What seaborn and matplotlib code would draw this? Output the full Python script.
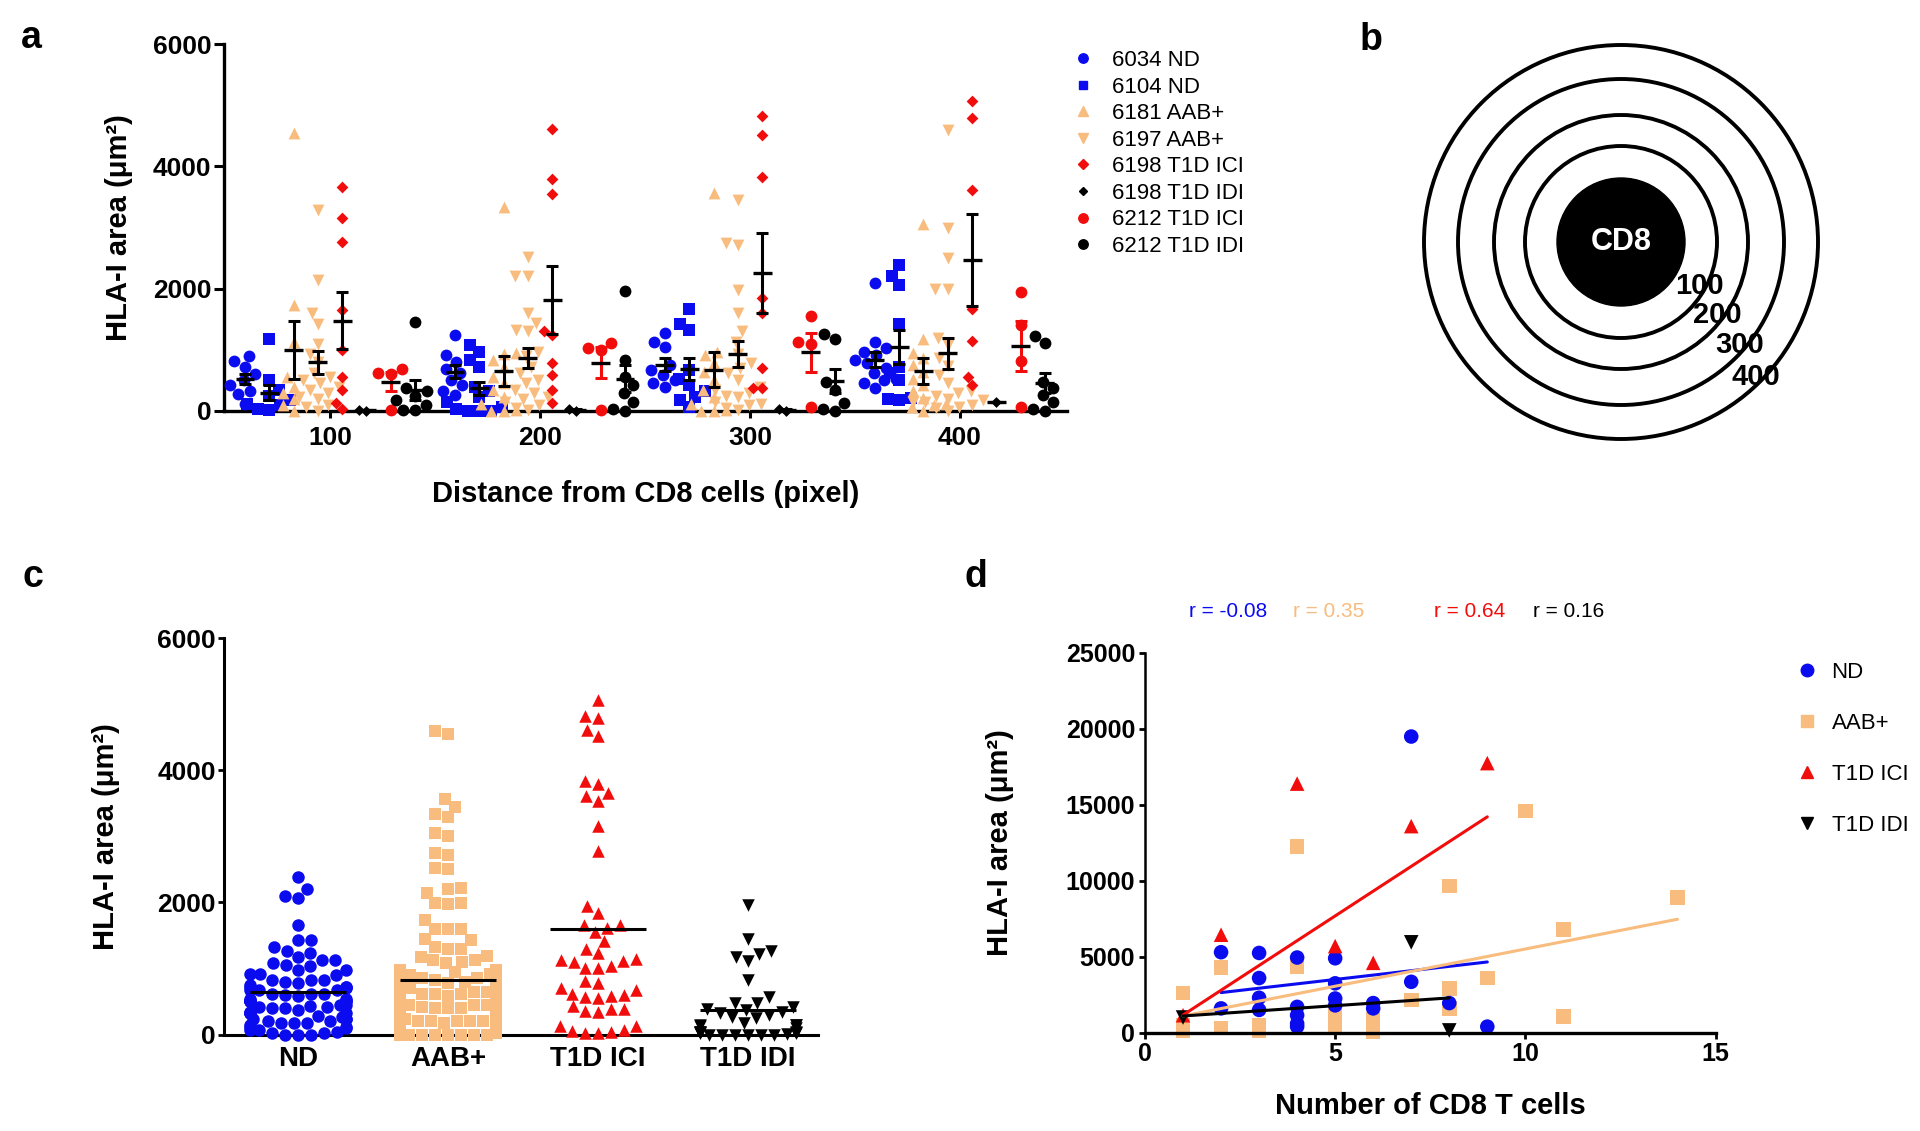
"""
HLA-I area around CD8 T cells: distance rings (a, b), pooled groups (c)
and correlation with number of CD8 T cells (d).
"""

import pandas as pd
import seaborn as sns
import matplotlib.pyplot as plt
from matplotlib.lines import Line2D
from matplotlib.patches import Circle
import numpy as np

# ---------------- panel a data: HLA-I area (um2) per subject, one list per distance ----------------
distances = ["100", "200", "300", "400"]
subjects = ["6034 ND", "6104 ND", "6181 AAB+", "6197 AAB+",
            "6198 T1D ICI", "6198 T1D IDI", "6212 T1D ICI", "6212 T1D IDI"]

area_6034_nd = [
    [900, 820, 720, 600, 500, 420, 330, 280, 120],
    [1240, 920, 800, 680, 620, 500, 420, 320, 260],
    [1270, 1130, 1050, 750, 670, 590, 510, 450, 400],
    [2100, 1130, 1030, 970, 920, 830, 780, 700, 620, 530, 500, 450, 370],
]
area_6104_nd = [
    [1170, 510, 340, 240, 180, 120, 100, 40, 20],
    [1080, 970, 830, 720, 400, 320, 230, 150, 70, 30, 0, 0, 0],
    [1660, 1430, 1320, 670, 530, 430, 320, 230, 180, 70],
    [2390, 2200, 2060, 1430, 720, 620, 510, 210, 200, 180],
]
area_6181_aab = [
    [4550, 1730, 1130, 560, 400, 300, 200, 100, 0],
    [3340, 950, 930, 830, 720, 560, 450, 340, 230, 120, 20, 0, 0],
    [3570, 970, 920, 780, 640, 510, 340, 230, 120, 20, 0, 0],
    [3050, 1170, 950, 860, 750, 640, 530, 420, 320, 210, 120, 100, 70, 0],
]
area_6197_aab = [
    [3290, 2140, 1600, 1430, 1100, 940, 800, 620, 560, 500, 450, 400, 340, 300, 230, 200, 100, 70, 0],
    [2520, 2210, 2200, 1600, 1440, 1320, 1300, 970, 900, 720, 620, 510, 450, 340, 300, 230, 200,
     150, 100, 50, 20],
    [3450, 2740, 2710, 1980, 1600, 1300, 1130, 940, 780, 700, 620, 510, 400, 350, 300, 250, 230,
     150, 120, 100, 50, 20],
    [4590, 3000, 2500, 1990, 1990, 1190, 1080, 860, 730, 590, 450, 320, 300, 250, 200, 180, 150,
     150, 100, 70, 50, 0],
]
area_6198_ici = [
    [3660, 3150, 2770, 1650, 1000, 560, 340, 130, 40],
    [4610, 3790, 3540, 1300, 1240, 780, 590, 350, 130],
    [4820, 4510, 3830, 1840, 1610, 700, 380, 380],
    [5060, 4790, 3610, 1660, 1150, 550, 430],
]
area_6198_idi = [[20, 0], [30, 0], [30, 0], [140]]
area_6212_ici = [
    [680, 620, 600, 20],
    [1110, 1030, 1000, 20],
    [1550, 1120, 1100, 70],
    [1950, 1410, 810, 60],
]
area_6212_idi = [
    [1450, 380, 320, 250, 180, 100, 20, 10],
    [1960, 830, 560, 420, 290, 150, 40, 0],
    [1260, 1170, 480, 340, 130, 40, 0],
    [1220, 1110, 480, 370, 260, 150, 40, 0],
]
subject_values = [area_6034_nd, area_6104_nd, area_6181_aab, area_6197_aab,
                  area_6198_ici, area_6198_idi, area_6212_ici, area_6212_idi]

# ---------------- panel c: groups pool the subjects of panel a ----------------
groups = ["ND", "AAB+", "T1D ICI", "T1D IDI"]
group_members = {
    "ND": ["6034 ND", "6104 ND"],
    "AAB+": ["6181 AAB+", "6197 AAB+"],
    "T1D ICI": ["6198 T1D ICI", "6212 T1D ICI"],
    "T1D IDI": ["6198 T1D IDI", "6212 T1D IDI"],
}

# ---------------- panel d data: number of CD8 T cells vs HLA-I area ----------------
nd_cells = [2, 2, 3, 3, 3, 3, 4, 4, 4, 4, 4, 5, 5, 5, 5, 6, 6, 7, 7, 8, 9]
nd_area = [5300, 1600, 5250, 3600, 2300, 1500, 4950, 1700, 1150, 600, 400, 4900, 3250, 2250, 1800,
           1950, 1600, 19500, 3350, 1950, 400]
aab_cells = [1, 1, 1, 2, 2, 3, 3, 4, 4, 5, 5, 5, 6, 6, 6, 7, 8, 8, 8, 9, 10, 11, 11, 14]
aab_area = [2600, 500, 100, 4300, 300, 500, 100, 12250, 4350, 1250, 850, 300, 900, 250, 50, 2150,
            9650, 2900, 1600, 3600, 14600, 6800, 1050, 8900]
ici_cells = [1, 2, 4, 5, 6, 7, 9]
ici_area = [1150, 6450, 16400, 5700, 4600, 13600, 17750]
idi_cells = [1, 7, 8]
idi_area = [1000, 5950, 150]

# regression lines (slope per cell, intercept)
fit_slope = [288, 490, 1631, 170]
fit_intercept = [2065, 610, -466, 930]
r_labels = ["r = -0.08", "r = 0.35", "r = 0.64", "r = 0.16"]

# ---------------- styles ----------------
BLUE = "#0B0BEF"
TAN = "#F8BC7E"
RED = "#F20D0D"
BLACK = "#000000"

subject_style = {
    "6034 ND": (BLUE, "o", 8.5),
    "6104 ND": (BLUE, "s", 8),
    "6181 AAB+": (TAN, "^", 8.5),
    "6197 AAB+": (TAN, "v", 8.5),
    "6198 T1D ICI": (RED, "D", 6),
    "6198 T1D IDI": (BLACK, "D", 5.5),
    "6212 T1D ICI": (RED, "o", 8.5),
    "6212 T1D IDI": (BLACK, "o", 8.5),
}
group_style = {
    "ND": (BLUE, "o"),
    "AAB+": (TAN, "s"),
    "T1D ICI": (RED, "^"),
    "T1D IDI": (BLACK, "v"),
}

W, H = 1920, 1131


def fig_box(left, top, right, bottom):
    """Axes rectangle from pixel edges."""
    return [left / W, 1 - bottom / H, (right - left) / W, (bottom - top) / H]


sns.set_theme(style="ticks")
plt.rcParams["font.family"] = ["Liberation Sans", "DejaVu Sans"]
plt.rcParams["font.weight"] = "bold"
plt.rcParams["axes.labelweight"] = "bold"
plt.rcParams["axes.edgecolor"] = "black"
plt.rcParams["xtick.color"] = "black"
plt.rcParams["ytick.color"] = "black"
plt.rcParams["text.color"] = "black"
plt.rcParams["axes.labelcolor"] = "black"

fig = plt.figure(figsize=(W / 100, H / 100), dpi=100)

# ======================= panel a =======================
ax_a = fig.add_axes(fig_box(224, 44, 1067, 411))
group_step = 0.1157

rows = []
for j, (name, values) in enumerate(zip(subjects, subject_values)):
    for i, dist_values in enumerate(values):
        for v in dist_values:
            rows.append({"subject": name, "distance": distances[i],
                         "pos": i + (j - 3.5) * group_step, "area": v})
df_a = pd.DataFrame(rows)

for name in subjects:
    color, marker, size = subject_style[name]
    sns.swarmplot(data=df_a[df_a["subject"] == name], x="pos", y="area", orient="x",
                  native_scale=True, color=color, marker=marker, size=size,
                  linewidth=0, warn_thresh=1, ax=ax_a)

# mean +/- SEM for each subject and distance
stats_a = df_a.groupby(["subject", "pos"])["area"].agg(["mean", "sem"]).reset_index()
for _, row in stats_a.iterrows():
    err_color = RED if row["subject"] == "6212 T1D ICI" else BLACK
    sem = 0 if np.isnan(row["sem"]) else row["sem"]
    ax_a.errorbar(row["pos"], row["mean"], yerr=sem, fmt="none", ecolor=err_color,
                  elinewidth=2.2, capsize=4, capthick=2.2, zorder=4)
    ax_a.hlines(row["mean"], row["pos"] - 0.045, row["pos"] + 0.045, color=BLACK, lw=2.4, zorder=5)

for coll in ax_a.collections:
    coll.set_clip_on(False)

ax_a.set_xlim(-0.505, 3.51)
ax_a.set_ylim(0, 6000)
ax_a.set_xticks(range(len(distances)), distances)
ax_a.set_yticks([0, 2000, 4000, 6000])
ax_a.tick_params(axis="both", labelsize=19, width=2.2, direction="out")
ax_a.tick_params(axis="y", length=7, pad=2)
ax_a.tick_params(axis="x", length=5, pad=6)
for side in ["left", "bottom"]:
    ax_a.spines[side].set_linewidth(2.4)
sns.despine(ax=ax_a)
ax_a.set_xlabel("Distance from CD8 cells (pixel)", fontsize=21)
ax_a.set_ylabel("HLA-I area (\u03bcm\u00b2)", fontsize=21)
ax_a.xaxis.set_label_coords(0.5, -0.188)
ax_a.yaxis.set_label_coords(-0.108, 0.5)

handles_a = [Line2D([], [], color=subject_style[s][0], marker=subject_style[s][1],
                    markersize=subject_style[s][2] * 0.8, linestyle="none") for s in subjects]
ax_a.legend(handles_a, subjects, loc="upper left", bbox_to_anchor=(1072 / W, 1 - 50 / H),
            bbox_transform=fig.transFigure, frameon=False,
            prop={"size": 16, "weight": "normal"}, handlelength=1.0, handletextpad=0.8,
            labelspacing=0.25, borderpad=0, borderaxespad=0)

# ======================= panel b (schematic) =======================
ax_b = fig.add_axes(fig_box(1400, 30, 1850, 470))
ax_b.set_xlim(1400, 1850)
ax_b.set_ylim(470, 30)
ax_b.axis("off")
ring_center = (1621, 242)
core_radius = 64
ring_radii = [96, 127, 163, 197]
ring_labels = ["100", "200", "300", "400"]
ring_label_angles = [29, 37, 41, 45]

ax_b.add_patch(Circle(ring_center, core_radius, color=BLACK))
for r in ring_radii:
    ax_b.add_patch(Circle(ring_center, r, fill=False, ec=BLACK, lw=2.8))
ax_b.text(ring_center[0], ring_center[1], "CD8", color="white", ha="center", va="center",
          fontsize=22, fontweight="bold")
for r, lab, ang in zip(ring_radii, ring_labels, ring_label_angles):
    a = np.deg2rad(ang)
    ax_b.text(ring_center[0] + (r - 6) * np.cos(a), ring_center[1] + (r - 6) * np.sin(a), lab,
              ha="center", va="center", fontsize=21, fontweight="bold", zorder=5)

# ======================= panel c =======================
ax_c = fig.add_axes(fig_box(224, 638, 818, 1034.5))
cat_step = 1.25  # swarm width (0.8) is 64 % of the spacing between groups
rows = []
for i, g in enumerate(groups):
    for name in group_members[g]:
        for dist_values in subject_values[subjects.index(name)]:
            for v in dist_values:
                rows.append({"group": g, "pos": i * cat_step, "area": v})
df_c = pd.DataFrame(rows)

for g in groups:
    color, marker = group_style[g]
    sns.swarmplot(data=df_c[df_c["group"] == g], x="pos", y="area", orient="x",
                  native_scale=True, color=color, marker=marker, size=9,
                  linewidth=0, warn_thresh=1, ax=ax_c)

group_means = df_c.groupby("group")["area"].mean()
for i, g in enumerate(groups):
    ax_c.hlines(group_means[g], i * cat_step - 0.4, i * cat_step + 0.4, color=BLACK, lw=2.2, zorder=5)

for coll in ax_c.collections:
    coll.set_clip_on(False)

ax_c.set_xlim(-0.493 * cat_step, 3.467 * cat_step)
ax_c.set_ylim(0, 6000)
ax_c.set_xticks([i * cat_step for i in range(len(groups))], groups)
ax_c.set_yticks([0, 2000, 4000, 6000])
ax_c.tick_params(axis="y", labelsize=19, width=2, direction="out", length=4, pad=2)
ax_c.tick_params(axis="x", labelsize=20, length=0, pad=8)
for side in ["left", "bottom"]:
    ax_c.spines[side].set_linewidth(2.2)
sns.despine(ax=ax_c)
ax_c.set_xlabel("")
ax_c.set_ylabel("HLA-I area (\u03bcm\u00b2)", fontsize=21)
ax_c.yaxis.set_label_coords(-0.175, 0.5)

# ======================= panel d =======================
ax_d = fig.add_axes(fig_box(1145, 653, 1715.5, 1032.7))
group_cells = {"ND": nd_cells, "AAB+": aab_cells, "T1D ICI": ici_cells, "T1D IDI": idi_cells}
group_area = {"ND": nd_area, "AAB+": aab_area, "T1D ICI": ici_area, "T1D IDI": idi_area}
draw_order = ["AAB+", "ND", "T1D ICI", "T1D IDI"]

df_d = pd.concat([pd.DataFrame({"group": g, "cells": group_cells[g], "area": group_area[g]})
                  for g in draw_order], ignore_index=True)
sns.scatterplot(data=df_d, x="cells", y="area", hue="group", style="group",
                palette={g: group_style[g][0] for g in groups},
                markers={g: group_style[g][1] for g in groups},
                s=110, linewidth=0, legend=False, ax=ax_d, zorder=2)
for coll in ax_d.collections:
    coll.set_clip_on(False)

# fitted lines over each group's range of cell counts
for g, slope, icpt in zip(groups, fit_slope, fit_intercept):
    xs = [min(group_cells[g]), max(group_cells[g])]
    line = pd.DataFrame({"cells": xs, "area": [icpt + slope * x for x in xs]})
    sns.lineplot(data=line, x="cells", y="area", color=group_style[g][0], lw=2.2, ax=ax_d, zorder=3)

ax_d.set_xlim(0, 15)
ax_d.set_ylim(0, 25000)
ax_d.set_xticks([0, 5, 10, 15])
ax_d.set_yticks([0, 5000, 10000, 15000, 20000, 25000])
ax_d.tick_params(axis="both", labelsize=18, width=2, length=4, direction="out", pad=3)
ax_d.spines["left"].set_linewidth(1.8)
ax_d.spines["bottom"].set_linewidth(2.4)
sns.despine(ax=ax_d)
ax_d.set_xlabel("Number of CD8 T cells", fontsize=21)
ax_d.set_ylabel("HLA-I area (\u03bcm\u00b2)", fontsize=21)
ax_d.xaxis.set_label_coords(0.5, -0.156)
ax_d.yaxis.set_label_coords(-0.23, 0.5)

handles_d = [Line2D([], [], color=group_style[g][0], marker=group_style[g][1], markersize=9,
                    linestyle="none") for g in groups]
ax_d.legend(handles_d, groups, loc="upper left", bbox_to_anchor=(1796 / W, 1 - 662 / H),
            bbox_transform=fig.transFigure, frameon=False,
            prop={"size": 16, "weight": "normal"}, handlelength=1.0, handletextpad=0.6,
            labelspacing=1.35, borderpad=0, borderaxespad=0)

r_colors = [BLUE, TAN, RED, BLACK]
r_x = [1228, 1329, 1470, 1569]
for txt, col, x in zip(r_labels, r_colors, r_x):
    fig.text(x / W, 1 - 617 / H, txt, color=col, ha="center", va="baseline",
             fontsize=15, fontweight="normal")

# ======================= panel letters =======================
for letter, (x, y) in zip("abcd", [(21, 48), (1360, 50), (22, 587), (965, 587)]):
    fig.text(x / W, 1 - y / H, letter, fontsize=27, fontweight="bold", ha="left", va="baseline")

plt.savefig("out.png", dpi=100)
